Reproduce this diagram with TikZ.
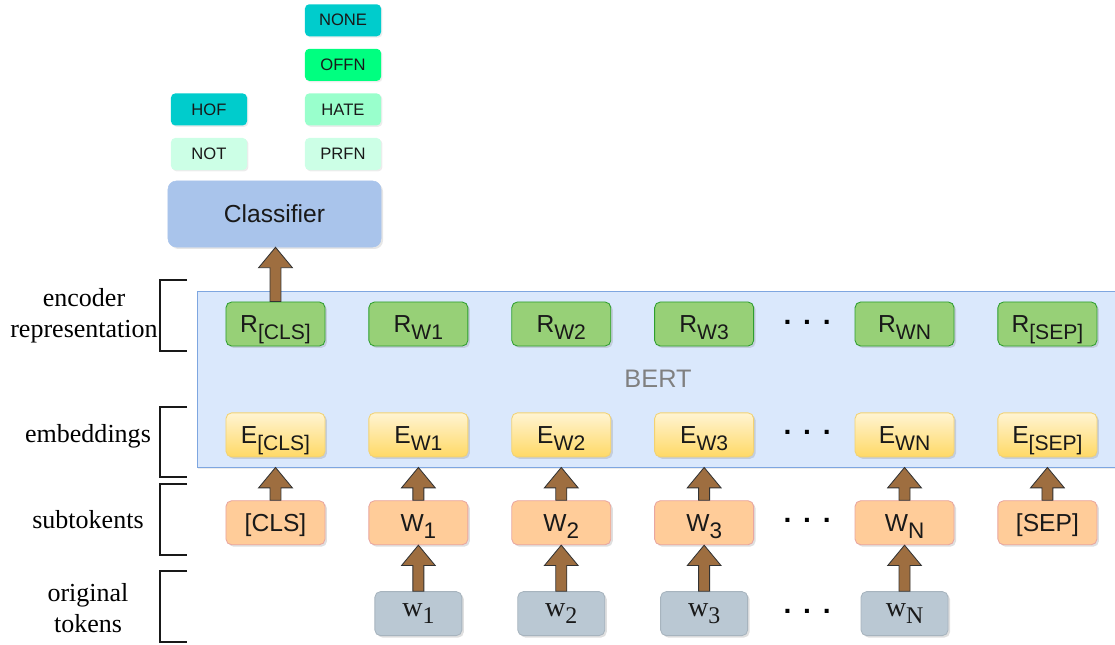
\documentclass[tikz,border=0pt]{standalone}
\usepackage{fontspec}
\setmainfont{Liberation Sans}
\newfontfamily\serifface{Liberation Serif}
\usetikzlibrary{arrows.meta,calc,shadows,positioning}

\definecolor{bertfill}{HTML}{DAE8FC}
\definecolor{bertline}{HTML}{7EA6E0}
\definecolor{reprfill}{HTML}{97D077}
\definecolor{reprline}{HTML}{2E9E2E}
\definecolor{embtop}{HTML}{FFF4D2}
\definecolor{embbot}{HTML}{FFD966}
\definecolor{embline}{HTML}{F2D272}
\definecolor{subfill}{HTML}{FFCC99}
\definecolor{subline}{HTML}{E9A6A0}
\definecolor{tokfill}{HTML}{BAC8D3}
\definecolor{clsfill}{HTML}{A9C4EB}
\definecolor{arrowbrown}{HTML}{9E6E40}
\definecolor{tagcyan}{HTML}{00CCCC}
\definecolor{taggreen}{HTML}{00FF80}
\definecolor{tagmint}{HTML}{99FFCC}
\definecolor{tagpale}{HTML}{CCFFE6}

\newcommand{\subtxt}[2][15]{\raisebox{-5pt}{\fontsize{#1}{#1}\selectfont #2}}

\tikzset{blockarrow/.style={fill=arrowbrown, draw=black!80, line width=0.6pt,
  to path={let \p1=(\tikztostart), \p2=(\tikztotarget) in
    (\x1-3.9pt,\y1) -- (\x1-3.9pt,\y2-14.5pt) -- (\x1-12pt,\y2-14.5pt) -- (\x1,\y2)
    -- (\x1+12pt,\y2-14.5pt) -- (\x1+3.9pt,\y2-14.5pt) -- (\x1+3.9pt,\y1) -- cycle}}}

\begin{document}
\begin{tikzpicture}[x=0.025cm, y=-0.025cm, node distance=1.075cm,
      every node/.append style={font=\fontsize{17.5}{21}\selectfont, text=black!90},
      box/.style={rounded corners=4pt, minimum width=2.475cm, minimum height=1.1cm, inner sep=0pt,
        line width=0.6pt, drop shadow={shadow xshift=1.4pt, shadow yshift=-1.4pt, opacity=0.25}},
      rbox/.style={box, fill=reprfill, draw=reprline, text height=13pt, text depth=1pt},
      ebox/.style={box, top color=embtop, bottom color=embbot, draw=embline, text height=13pt, text depth=1pt},
      wbox/.style={box, fill=subfill, draw=subline, text height=13pt, text depth=1pt},
      tokbox/.style={box, minimum width=2.175cm, fill=tokfill, draw=tokfill!90!black,
        font=\serifface\fontsize{20}{22}\selectfont}]
    \tikzstyle{tagbox} = [rounded corners=3pt, minimum width=1.9cm, minimum height=0.8cm, inner sep=0pt,
      font=\fontsize{11.8}{12}\selectfont, drop shadow={shadow xshift=1pt, shadow yshift=-1pt, opacity=0.15}]
    \tikzstyle{sidetext} = [font=\serifface\fontsize{18.5}{22}\selectfont, align=center, text=black]
    \tikzstyle{bracket} = [line width=1.3pt, black!90]
    \tikzstyle{dotsym} = [anchor=base, xshift=2pt, font=\bfseries\fontsize{20}{20}\selectfont, text=black]
    \useasboundingbox (0,0) rectangle (1115,644);

    \node (bert) [fill=bertfill, draw=bertline, line width=0.6pt, minimum width=23cm, minimum height=4.4cm,
      text=black!50, font=\fontsize{18}{18}\selectfont,
      drop shadow={shadow xshift=0pt, shadow yshift=-1.2pt, opacity=0.15}] at (658,379) {BERT};

    \node (R_cls) [rbox] at (275.5,324) {R\subtxt{[CLS]}};
    \node (R_w1) [rbox, right=of R_cls] {R\subtxt{W1}};
    \node (R_w2) [rbox, right=of R_w1] {R\subtxt{W2}};
    \node (R_w3) [rbox, right=of R_w2] {R\subtxt{W3}};
    \node (R_wN) [rbox, right=2.5125cm of R_w3] {R\subtxt{WN}};
    \node (R_sep) [rbox, right=of R_wN] {R\subtxt{[SEP]}};

    \node (E_cls) [ebox, below=1.65cm of R_cls] {E\subtxt{[CLS]}};
    \node (E_w1) [ebox, below=1.65cm of R_w1] {E\subtxt{W1}};
    \node (E_w2) [ebox, below=1.65cm of R_w2] {E\subtxt{W2}};
    \node (E_w3) [ebox, below=1.65cm of R_w3] {E\subtxt{W3}};
    \node (E_wN) [ebox, below=1.65cm of R_wN] {E\subtxt{WN}};
    \node (E_sep) [ebox, below=1.65cm of R_sep] {E\subtxt{[SEP]}};

    \node (W_cls) [wbox, below=of E_cls] {[CLS]};
    \node (W_w1) [wbox, below=of E_w1] {W\subtxt[16]{1}};
    \node (W_w2) [wbox, below=of E_w2] {W\subtxt[16]{2}};
    \node (W_w3) [wbox, below=of E_w3] {W\subtxt[16]{3}};
    \node (W_wN) [wbox, below=of E_wN] {W\subtxt[16]{N}};
    \node (W_sep) [wbox, below=of E_sep] {[SEP]};

    \node (w1) [tokbox, below=1.15cm of W_w1] {w\subtxt[17]{1}};
    \node (w2) [tokbox, below=1.15cm of W_w2] {w\subtxt[17]{2}};
    \node (w3) [tokbox, below=1.15cm of W_w3] {w\subtxt[17]{3}};
    \node (wN) [tokbox, below=1.15cm of W_wN] {w\subtxt[17]{N}};

    \node (dots_R) [dotsym] at ($(R_w3)!0.5!(R_wN)$) {.\hspace{0.42em}.\hspace{0.42em}.};
    \node (dots_E) [dotsym] at ($(E_w3)!0.5!(E_wN)$) {.\hspace{0.42em}.\hspace{0.42em}.};
    \node (dots_W) [dotsym] at ($(W_w3)!0.5!(W_wN)$) {.\hspace{0.42em}.\hspace{0.42em}.};
    \node (dots_w) [dotsym] at ($(w3)!0.5!(wN)$) {.\hspace{0.42em}.\hspace{0.42em}.};

    \node (classifier) [fill=clsfill, draw=clsfill, rounded corners=6pt, minimum width=5.325cm, minimum height=1.65cm,
      text height=13pt, text depth=1pt,
      drop shadow={shadow xshift=1.4pt, shadow yshift=-1.4pt, opacity=0.2}] at (274.5,214) {Classifier};

    \node (NOT) [tagbox, fill=tagpale] at (209,154) {NOT};
    \node (HOF) [tagbox, fill=tagcyan, above=0.3cm of NOT] {HOF};
    \node (PRFN) [tagbox, fill=tagpale] at (343,154) {PRFN};
    \node (HATE) [tagbox, fill=tagmint, above=0.3cm of PRFN] {HATE};
    \node (OFFN) [tagbox, fill=taggreen, above=0.3cm of HATE] {OFFN};
    \node (NONE) [tagbox, fill=tagcyan, above=0.3cm of OFFN] {NONE};

    \node (enc_lbl) [sidetext] at (84,316) {encoder\\representation};
    \node (emb_lbl) [sidetext] at (88,436) {embeddings};
    \node (sub_lbl) [sidetext] at (88,520) {subtokents};
    \node (orig_lbl) [sidetext] at (88,608) {original\\tokens};

    \draw[bracket] (187,280) -- (160,280) -- (160,351) -- (187,351);
    \draw[bracket] (187,407) -- (160,407) -- (160,477) -- (187,477);
    \draw[bracket] (187,484) -- (160,484) -- (160,555) -- (187,555);
    \draw[bracket] (187,571) -- (160,571) -- (160,642) -- (187,642);

    \coordinate (in_cls) at (W_cls.north |- bert.south);
    \coordinate (in_w1) at (W_w1.north |- bert.south);
    \coordinate (in_w2) at (W_w2.north |- bert.south);
    \coordinate (in_w3) at (W_w3.north |- bert.south);
    \coordinate (in_wN) at (W_wN.north |- bert.south);
    \coordinate (in_sep) at (W_sep.north |- bert.south);

    \draw[blockarrow] (R_cls.north) to (classifier.south);
    \draw[blockarrow] (W_cls.north) to (in_cls);
    \draw[blockarrow] (W_w1.north) to (in_w1);
    \draw[blockarrow] (W_w2.north) to (in_w2);
    \draw[blockarrow] (W_w3.north) to (in_w3);
    \draw[blockarrow] (W_wN.north) to (in_wN);
    \draw[blockarrow] (W_sep.north) to (in_sep);
    \draw[blockarrow] (w1.north) to (W_w1.south);
    \draw[blockarrow] (w2.north) to (W_w2.south);
    \draw[blockarrow] (w3.north) to (W_w3.south);
    \draw[blockarrow] (wN.north) to (W_wN.south);
\end{tikzpicture}
\end{document}
